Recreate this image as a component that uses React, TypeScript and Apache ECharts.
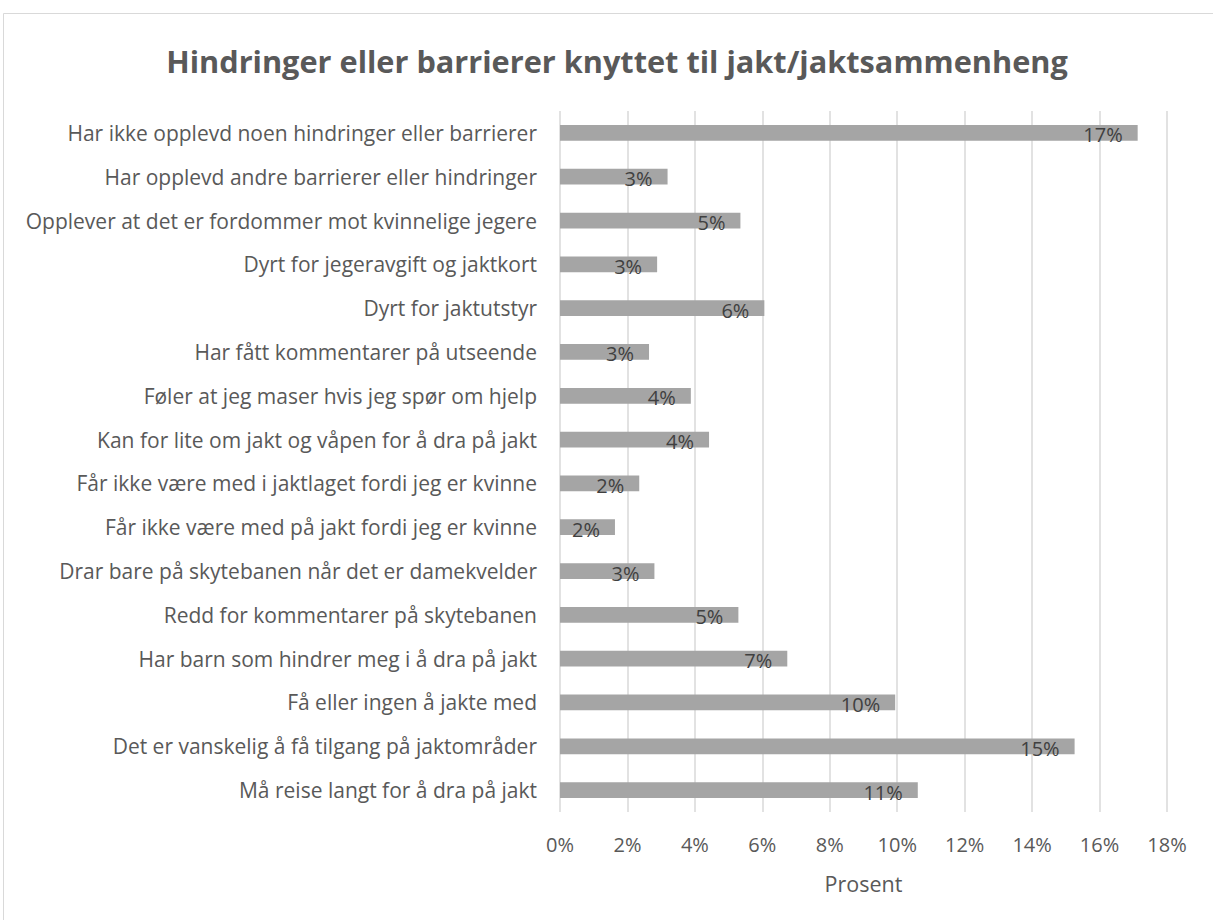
import React, { useEffect, useRef } from "react";
import * as echarts from "echarts";

const titleText = "Hindringer eller barrierer knyttet til jakt/jaktsammenheng";
const axisName = "Prosent";

const categories = [
  "Har ikke opplevd noen hindringer eller barrierer",
  "Har opplevd andre barrierer eller hindringer",
  "Opplever at det er fordommer mot kvinnelige jegere",
  "Dyrt for jegeravgift og jaktkort",
  "Dyrt for jaktutstyr",
  "Har fått kommentarer på utseende",
  "Føler at jeg maser hvis jeg spør om hjelp",
  "Kan for lite om jakt og våpen for å dra på jakt",
  "Får ikke være med i jaktlaget fordi jeg er kvinne",
  "Får ikke være med på jakt fordi jeg er kvinne",
  "Drar bare på skytebanen når det er damekvelder",
  "Redd for kommentarer på skytebanen",
  "Har barn som hindrer meg i å dra på jakt",
  "Få eller ingen å jakte med",
  "Det er vanskelig å få tilgang på jaktområder",
  "Må reise langt for å dra på jakt",
];

// percent values
const values = [
  17.13, 3.19, 5.35, 2.88, 6.06, 2.64, 3.88, 4.42, 2.35, 1.63, 2.8, 5.29, 6.74,
  9.94, 15.26, 10.61,
];

const xMin = 0;
const xMax = 18;
const xStep = 2;

const FONT = "'Open Sans', sans-serif";

export default function App() {
  const ref = useRef<HTMLDivElement>(null);

  useEffect(() => {
    document.body.style.margin = "0";
    const chart = echarts.init(ref.current!, null, { renderer: "svg" });
    chart.setOption({
      animation: false,
      backgroundColor: "#ffffff",
      textStyle: { fontFamily: FONT },
      title: {
        text: titleText,
        left: 612,
        textAlign: "center",
        top: 40,
        textStyle: {
          fontFamily: FONT,
          fontSize: 30.7,
          fontWeight: "bold",
          color: "#595959",
        },
      },
      graphic: [
        {
          type: "rect",
          shape: { x: 3.5, y: 13.5, width: 1220, height: 920 },
          style: { fill: "none", stroke: "#d9d9d9", lineWidth: 1 },
          silent: true,
          z: -10,
        },
      ],
      grid: { left: 560, right: 46, top: 111, bottom: 108 },
      xAxis: {
        type: "value",
        min: xMin,
        max: xMax,
        interval: xStep,
        name: axisName,
        nameLocation: "middle",
        nameGap: 60,
        nameTextStyle: { fontFamily: FONT, fontSize: 21.5, color: "#595959" },
        axisLine: { show: false },
        axisTick: { show: false },
        axisLabel: {
          formatter: "{value}%",
          fontFamily: FONT,
          fontSize: 20,
          color: "#595959",
          margin: 22,
        },
        splitLine: { show: true, lineStyle: { color: "#d9d9d9", width: 1.5 } },
      },
      yAxis: {
        type: "category",
        data: categories,
        inverse: true,
        axisLine: { show: false },
        axisTick: { show: false },
        axisLabel: {
          fontFamily: FONT,
          fontSize: 21,
          color: "#595959",
          margin: 23,
        },
        splitLine: { show: false },
      },
      series: [
        {
          type: "bar",
          data: values,
          barCategoryGap: "64%",
          itemStyle: { color: "#a5a5a5" },
          label: {
            show: true,
            position: "insideRight",
            distance: 15,
            offset: [0, 2],
            formatter: (p: any) => Math.round(p.value) + "%",
            fontFamily: FONT,
            fontSize: 20,
            color: "#404040",
          },
        },
      ],
    });
    return () => chart.dispose();
  }, []);

  return <div ref={ref} style={{ width: 1213, height: 920 }} />;
}
